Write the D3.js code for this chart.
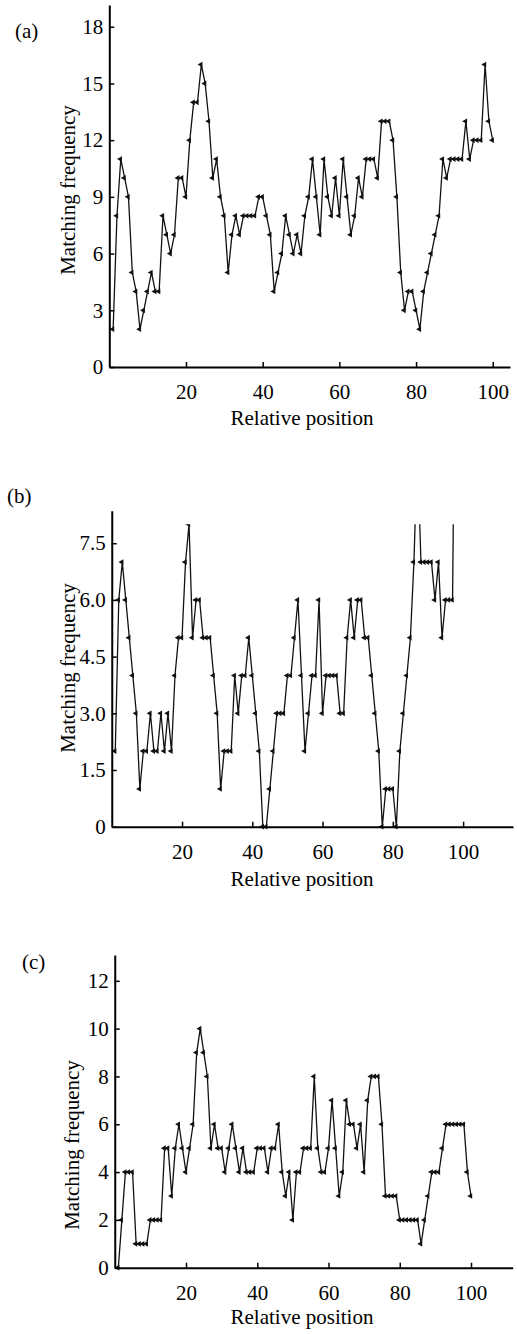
<!DOCTYPE html>
<html>
<head>
<meta charset="utf-8">
<title>Matching frequency vs relative position</title>
<script src="https://d3js.org/d3.v7.min.js" charset="utf-8"></script>
<style>
body {
    margin: 0;
    background: #fff;
}
svg text {
    font-family: "Liberation Serif", "Times New Roman", serif;
    fill: #000;
}
</style>
</head>
<body>
<script>
// matching frequency at relative positions 1..n
var freqA = [2,8,11,10,9,5,4,2,3,4, 5,4,4,8,7,6,7,10,10,9,
             12,14,14,16,15,13,10,11,9,8, 5,7,8,7,8,8,8,8,9,9,
             8,7,4,5,6,8,7,6,7,6, 8,9,11,9,7,11,9,8,10,8,
             11,9,7,8,10,9,11,11,11,10, 13,13,13,12,9,5,3,4,4,3,
             2,4,5,6,7,8,11,10,11,11, 11,11,13,11,12,12,12,16,13,12];
var freqB = [2,6,7,6,5,4,3,1,2,2, 3,2,2,3,2,3,2,4,5,5,
             7,8,5,6,6,5,5,5,4,3, 1,2,2,2,4,3,4,4,5,4,
             3,2,0,0,1,2,3,3,3,4, 4,5,6,4,2,3,4,4,6,3,
             4,4,4,4,3,3,5,6,5,6, 6,5,5,4,3,2,0,1,1,1,
             0,2,3,4,5,7,10,7,7,7, 7,6,7,5,6,6,6,16];
var freqC = [0,2,4,4,4,1,1,1,1,2, 2,2,2,5,5,3,5,6,5,4,
             5,6,9,10,9,8,5,6,5,5, 4,5,6,5,4,5,4,4,4,5,
             5,5,4,5,5,6,4,3,4,2, 4,4,5,5,5,8,5,4,4,5,
             7,5,3,4,7,6,6,5,6,4, 7,8,8,8,6,3,3,3,3,2,
             2,2,2,2,2,1,2,3,4,4, 4,5,6,6,6,6,6,6,4,3];

var xTicks = [20, 40, 60, 80, 100];
var yTicksA = [0, 3, 6, 9, 12, 15, 18];
var yTicksB = [0, 1.5, 3, 4.5, 6, 7.5];
var yTicksC = [0, 2, 4, 6, 8, 10, 12];

var xTitle = "Relative position";
var yTitle = "Matching frequency";

var width = 517;
var height = 1334;
var fontSize = 21;

var svg = d3.select("body")
    .append("svg")
    .attr("width", width)
    .attr("height", height);

// frame of each panel in page pixels
var panels = [
    { id: "a", tag: "(a)", data: freqA, yTicks: yTicksA, fmt: d3.format("d"),
      left: 109.3, right: 510, xMax: 104.5, bottom: 367, top: 5, yMax: 19.15, clipMax: null,
      tagX: 15, tagY: 38, yTitleX: 68, yTitleY: 190, xTitleY: 425 },
    { id: "b", tag: "(b)", data: freqB, yTicks: yTicksB, fmt: function(d){ return d === 0 ? "0" : d3.format(".1f")(d); },
      left: 111.75, right: 513, xMax: 114.2, bottom: 826.7, top: 510.7, yMax: 8.36, clipMax: 8,
      tagX: 7, tagY: 503, yTitleX: 68, yTitleY: 668, xTitleY: 886 },
    { id: "c", tag: "(c)", data: freqC, yTicks: yTicksC, fmt: d3.format("d"),
      left: 114.75, right: 512.7, xMax: 111.7, bottom: 1267.7, top: 955, yMax: 13.08, clipMax: null,
      tagX: 22, tagY: 969, yTitleX: 72, yTitleY: 1145, xTitleY: 1324 }
];

var marker = d3.symbol().type(d3.symbolTriangle).size(14);

panels.forEach(function(p) {
    var x = d3.scaleLinear().domain([0, p.xMax]).range([p.left, p.right]);
    var y = d3.scaleLinear().domain([0, p.yMax]).range([p.bottom, p.top]);
    var pts = p.data.map(function(v, i) { return { pos: i + 1, val: v }; });

    var g = svg.append("g").attr("class", "panel-" + p.id);

    var clipTop = p.clipMax == null ? p.top : y(p.clipMax);
    svg.append("clipPath")
        .attr("id", "clip-" + p.id)
      .append("rect")
        .attr("x", p.left)
        .attr("y", clipTop)
        .attr("width", p.right - p.left)
        .attr("height", p.bottom - clipTop + 3);

    var plot = g.append("g").attr("clip-path", "url(#clip-" + p.id + ")");

    var line = d3.line()
        .x(function(d) { return x(d.pos); })
        .y(function(d) { return y(d.val); });

    plot.append("path")
        .datum(pts)
        .attr("fill", "none")
        .attr("stroke", "#111")
        .attr("stroke-width", 1.3)
        .attr("d", line);

    plot.selectAll("path.mk")
        .data(pts)
        .enter()
        .append("path")
        .attr("class", "mk")
        .attr("d", marker)
        .attr("fill", "#111")
        .attr("transform", function(d) {
            return "translate(" + (x(d.pos) - 0.5) + "," + y(d.val) + ") rotate(-90)";
        });

    // axes with inward ticks
    var xAxis = d3.axisBottom(x)
        .tickValues(xTicks)
        .tickSizeInner(-5)
        .tickSizeOuter(0)
        .tickPadding(17);
    var yAxis = d3.axisLeft(y)
        .tickValues(p.yTicks)
        .tickFormat(p.fmt)
        .tickSizeInner(-5)
        .tickSizeOuter(0)
        .tickPadding(6);

    var gx = g.append("g")
        .attr("transform", "translate(0," + p.bottom + ")")
        .call(xAxis);
    var gy = g.append("g")
        .attr("transform", "translate(" + p.left + ",0)")
        .call(yAxis);

    [gx, gy].forEach(function(ax) {
        ax.attr("font-family", null).attr("font-size", null);
        ax.select(".domain").attr("stroke", "#000").attr("stroke-width", 2);
        ax.selectAll(".tick line").attr("stroke", "#000").attr("stroke-width", 1.5);
        ax.selectAll(".tick text").style("font-size", fontSize + "px");
    });

    g.append("text")
        .attr("x", 302)
        .attr("y", p.xTitleY)
        .attr("text-anchor", "middle")
        .style("font-size", fontSize + "px")
        .text(xTitle);

    g.append("text")
        .attr("transform", "translate(" + p.yTitleX + "," + p.yTitleY + ") rotate(-90)")
        .attr("text-anchor", "middle")
        .attr("dominant-baseline", "central")
        .style("font-size", fontSize + "px")
        .text(yTitle);

    g.append("text")
        .attr("x", p.tagX)
        .attr("y", p.tagY)
        .style("font-size", fontSize + "px")
        .text(p.tag);
});
</script>
</body>
</html>
